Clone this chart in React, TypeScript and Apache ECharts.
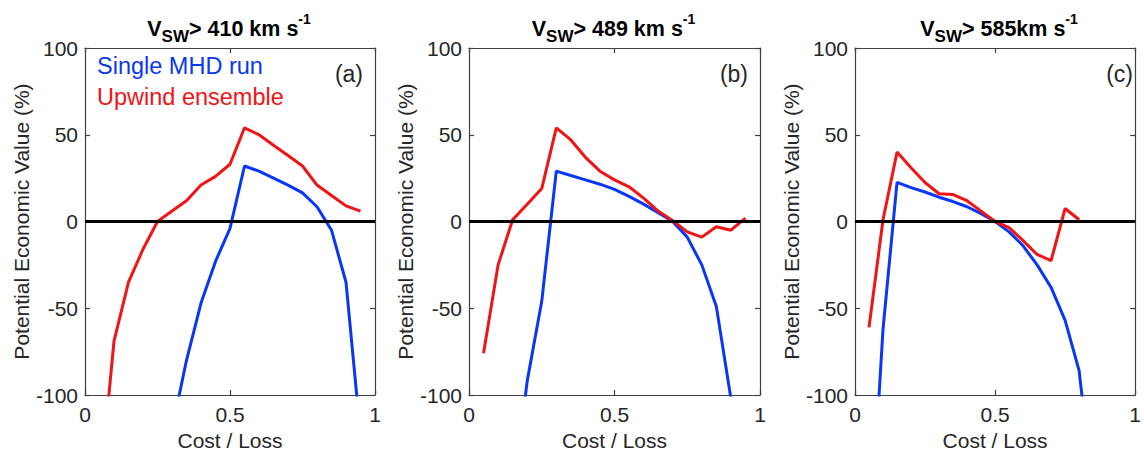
import React, { useEffect, useRef } from 'react';
import * as echarts from 'echarts';

const costLoss = [0.05, 0.1, 0.15, 0.2, 0.25, 0.3, 0.35, 0.4, 0.45, 0.5, 0.55, 0.6, 0.65, 0.7, 0.75, 0.8, 0.85, 0.9, 0.95];

const upwindA = [-157, -69, -35, -16, 0, 6, 12, 21, 26, 33, 54, 50, 44, 38, 32, 21, 15, 9, 6];
const singleA = [null, null, null, null, null, -120, -80, -47, -23, -4, 32, 29, 25, 21, 16.5, 8.5, -5, -35, -123];

const upwindB = [-76, -25, 1, 10, 19, 54, 47, 37, 29, 24, 20, 13.5, 6, 0.5, -6, -9, -3, -5, 2];
const singleB = [null, null, -160, -92, -46, 29, 26.5, 24, 21.5, 18.5, 14.5, 10, 5, 0, -9, -25, -49, -102, null];

const upwindC = [-61, 1, 40, 31, 22.5, 16, 15.5, 12, 6, 0, -3.5, -11, -19, -22.5, 7.5, 1, null, null, null];
const singleC = [-197, -62, 22.5, 19.5, 17, 14, 11.5, 8.5, 4.5, 0, -6, -14, -25, -38, -57, -86, -157, null, null];

const titleMain = ['> 410 km s', '> 489 km s', '> 585km s'];
const panelLabels = ['(a)', '(b)', '(c)'];
const legendNames = ['Single MHD run', 'Upwind ensemble'];

const F = "'Liberation Sans', Arial, Helvetica, sans-serif";
const RED = '#f01414';
const BLUE = '#0a37f5';
const AXIS = '#404040';
const TXT = '#262626';

const grids = [
  { left: 85, top: 48, width: 290, height: 350 },
  { left: 469, top: 48, width: 291, height: 350 },
  { left: 855, top: 48, width: 290, height: 350 },
];

function pairs(vals: (number | null)[]) {
  const out: number[][] = [];
  costLoss.forEach((x, i) => {
    const v = vals[i];
    if (v !== null && v !== undefined) out.push([x, v]);
  });
  return out;
}

export default function App() {
  const ref = useRef<HTMLDivElement>(null);
  useEffect(() => {
    if (!ref.current) return;
    const chart = echarts.init(ref.current, undefined, { renderer: 'svg' });
    const panels = [
      { up: upwindA, single: singleA },
      { up: upwindB, single: singleB },
      { up: upwindC, single: singleC },
    ];
    const xAxis: any[] = [];
    const yAxis: any[] = [];
    const series: any[] = [];
    const graphic: any[] = [];
    panels.forEach((p, i) => {
      const axisLine = { show: true, onZero: false, lineStyle: { color: AXIS, width: 1.2 } };
      const axisTick = { show: true, inside: true, length: 5, lineStyle: { color: AXIS, width: 1.2 } };
      xAxis.push({
        gridIndex: i, type: 'value', min: 0, max: 1, interval: 0.5, position: 'bottom',
        axisLine, axisTick, splitLine: { show: false },
        axisLabel: { fontSize: 21, color: TXT, fontFamily: F, margin: 9 },
        name: 'Cost / Loss', nameLocation: 'middle', nameGap: 35,
        nameTextStyle: { fontSize: 21, color: TXT, fontFamily: F },
      });
      xAxis.push({
        gridIndex: i, type: 'value', min: 0, max: 1, interval: 0.5, position: 'top',
        axisLine, axisTick, splitLine: { show: false }, axisLabel: { show: false },
      });
      yAxis.push({
        gridIndex: i, type: 'value', min: -100, max: 100, interval: 50, position: 'left',
        axisLine, axisTick, splitLine: { show: false },
        axisLabel: { fontSize: 21, color: TXT, fontFamily: F, margin: 7 },
        name: 'Potential Economic Value (%)', nameLocation: 'middle', nameGap: 52, nameRotate: 90,
        nameTextStyle: { fontSize: 21, color: TXT, fontFamily: F },
      });
      yAxis.push({
        gridIndex: i, type: 'value', min: -100, max: 100, interval: 50, position: 'right',
        axisLine, axisTick, splitLine: { show: false }, axisLabel: { show: false },
      });
      series.push({
        type: 'line', xAxisIndex: 2 * i, yAxisIndex: 2 * i, data: [], z: 1,
        markLine: {
          silent: true, symbol: ['none', 'none'], label: { show: false },
          lineStyle: { color: '#000', width: 3, type: 'solid' },
          data: [{ yAxis: 0 }],
        },
      });
      series.push({
        type: 'line', name: legendNames[0], xAxisIndex: 2 * i, yAxisIndex: 2 * i,
        data: pairs(p.single), symbol: 'none', clip: true, z: 3,
        lineStyle: { color: BLUE, width: 3 }, itemStyle: { color: BLUE },
      });
      series.push({
        type: 'line', name: legendNames[1], xAxisIndex: 2 * i, yAxisIndex: 2 * i,
        data: pairs(p.up), symbol: 'none', clip: true, z: 4,
        lineStyle: { color: RED, width: 3 }, itemStyle: { color: RED },
      });
      const g = grids[i];
      graphic.push({
        type: 'text', x: g.left + g.width / 2 - 1, y: 12,
        style: {
          text: `{v|V}{s|SW}{v|${titleMain[i]}}{p|-1}`,
          align: 'center', verticalAlign: 'top',
          rich: {
            v: { fontSize: 21.5, fontWeight: 'bold', fontFamily: F, fill: '#000', lineHeight: 33, verticalAlign: 'middle' },
            s: { fontSize: 17, fontWeight: 'bold', fontFamily: F, fill: '#000', verticalAlign: 'bottom' },
            p: { fontSize: 14, fontWeight: 'bold', fontFamily: F, fill: '#000', verticalAlign: 'top' },
          },
        },
      });
      graphic.push({
        type: 'text', x: g.left + g.width - 12, y: 74,
        style: { text: panelLabels[i], align: 'right', verticalAlign: 'middle', fontSize: 23, fontFamily: F, fill: TXT },
      });
    });
    graphic.push({
      type: 'text', x: 97, y: 66,
      style: { text: legendNames[0], align: 'left', verticalAlign: 'middle', fontSize: 23.5, fontFamily: F, fill: BLUE },
    });
    graphic.push({
      type: 'text', x: 97, y: 97,
      style: { text: legendNames[1], align: 'left', verticalAlign: 'middle', fontSize: 23.5, fontFamily: F, fill: RED },
    });
    chart.setOption({
      animation: false,
      backgroundColor: '#fff',
      grid: grids.map((g) => ({ ...g, show: false, containLabel: false })),
      xAxis, yAxis, series, graphic,
    });
    return () => chart.dispose();
  }, []);
  return <div ref={ref} style={{ position: 'fixed', left: 0, top: 0, width: 1144, height: 456, background: '#fff' }} />;
}
